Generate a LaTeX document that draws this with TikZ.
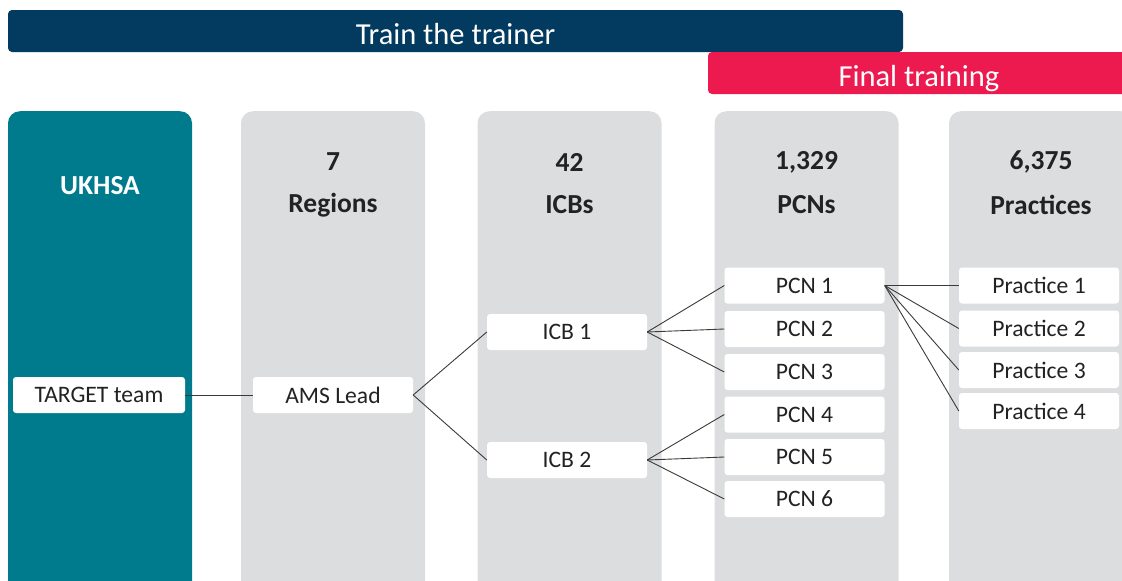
\documentclass[tikz,border=0pt]{standalone}
\usepackage{fontspec}
\setmainfont{Carlito}
\usetikzlibrary{positioning}
\definecolor{navy}{HTML}{033A5F}
\definecolor{crimson}{HTML}{EC1A4F}
\definecolor{ukteal}{HTML}{007B8D}
\definecolor{colgray}{HTML}{DCDDDF}
\definecolor{linegray}{HTML}{3A3A3A}
\definecolor{textdark}{HTML}{222222}

\begin{document}
\begin{tikzpicture}[x=1pt, y=-1pt,
    banner/.style={rounded corners=4pt, minimum height=42pt, inner sep=0pt, text height=27pt, text depth=1pt, text=white, font=\fontsize{30.5}{34}\selectfont},
    column/.style={rounded corners=12pt, fill=colgray, minimum width=184pt, minimum height=520pt, inner sep=0pt, anchor=north},
    head/.style={font=\fontsize{27.5}{32}\selectfont\bfseries, text=textdark, inner sep=0pt},
    unit/.style={fill=white, rounded corners=3pt, minimum width=160pt, minimum height=36pt, inner sep=0pt, font=\fontsize{23.6}{28}\selectfont, text=textdark},
    link/.style={draw=linegray, line width=0.9pt}
]
\useasboundingbox (0,0) rectangle (1122,581);
\clip (0,0) rectangle (1122,581);

\node[banner, fill=navy, minimum width=895pt] (trainer) at (455.5,31) {Train the trainer};
\node[banner, fill=crimson, minimum width=422pt] (final) at (919,73) {Final training};

\node[column, fill=ukteal] (colukhsa) at (100,111) {};
\node[column] (colreg) at (333,111) {};
\node[column] (colicb) at (569.5,111) {};
\node[column] (colpcn) at (806.5,111) {};
\node[column] (colprac) at (1041,111) {};

\node[head, text=white] (hukhsa) at (100,186) {UKHSA};
\node[head] (nreg) at (333,162) {7};
\node[head] (hreg) at (333,205) {Regions};
\node[head] (nicb) at (569.5,162) {42};
\node[head] (hicb) at (569.5,205) {ICBs};
\node[head] (npcn) at (806.5,162) {1,329};
\node[head] (hpcn) at (806.5,205) {PCNs};
\node[head] (nprac) at (1041,162) {6,375};
\node[head] (hprac) at (1041,205) {Practices};

\node[unit, minimum width=172pt] (target) at (99,395) {TARGET team};
\node[unit] (ams) at (333,395) {AMS Lead};

\node[unit] (icb1) at (567,332) {ICB 1};
\node[unit] (icb2) at (567,460) {ICB 2};

\node[unit] (pcn1) at (804.5,285.5) {PCN 1};
\node[unit] (pcn2) at (804.5,329) {PCN 2};
\node[unit] (pcn3) at (804.5,372) {PCN 3};
\node[unit] (pcn4) at (804.5,414.5) {PCN 4};
\node[unit] (pcn5) at (804.5,457) {PCN 5};
\node[unit] (pcn6) at (804.5,499) {PCN 6};

\node[unit] (prac1) at (1039,285.5) {Practice 1};
\node[unit] (prac2) at (1039,328.5) {Practice 2};
\node[unit] (prac3) at (1039,370) {Practice 3};
\node[unit] (prac4) at (1039,411) {Practice 4};

\draw[link] (target.east) -- (ams.west);

\draw[link] (ams.east) -- (icb1.west);
\draw[link] (ams.east) -- (icb2.west);

\draw[link] (icb1.east) -- (pcn1.west);
\draw[link] (icb1.east) -- (pcn2.west);
\draw[link] (icb1.east) -- (pcn3.west);

\draw[link] (icb2.east) -- (pcn4.west);
\draw[link] (icb2.east) -- (pcn5.west);
\draw[link] (icb2.east) -- (pcn6.west);

\draw[link] (pcn1.east) -- (prac1.west);
\draw[link] (pcn1.east) -- (prac2.west);
\draw[link] (pcn1.east) -- (prac3.west);
\draw[link] (pcn1.east) -- (prac4.west);

\end{tikzpicture}
\end{document}
